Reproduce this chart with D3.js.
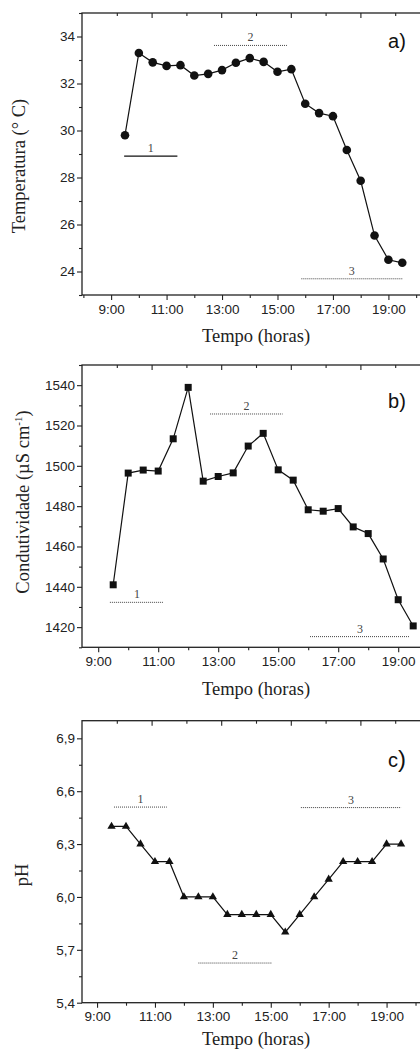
<!DOCTYPE html>
<html>
<head>
<meta charset="utf-8">
<script src="https://cdn.jsdelivr.net/npm/d3@7"></script>
<style>
  body { margin: 0; background: #fff; }
  svg { display: block; }
  .tick text { font-family: "Liberation Sans", Arial, sans-serif; font-size: 13.5px; fill: #222; }
  .tick line { stroke: #222; stroke-width: 1.1px; }
  .title { font-family: "Liberation Serif", "Times New Roman", serif; font-size: 18.5px; fill: #222; }
  .num { font-family: "Liberation Serif", "Times New Roman", serif; font-size: 12px; fill: #444; }
  .tag { font-family: "Liberation Sans", Arial, sans-serif; font-size: 20px; fill: #111; }
</style>
</head>
<body>
<script>
// sampling times (hours) - every half hour
var hours = [9.5, 10, 10.5, 11, 11.5, 12, 12.5, 13, 13.5, 14, 14.5, 15, 15.5, 16, 16.5, 17, 17.5, 18, 18.5, 19, 19.5];

// series
var tempValues = [29.8, 33.3, 32.9, 32.75, 32.78, 32.34, 32.41, 32.57, 32.88, 33.08, 32.92, 32.5, 32.61, 31.14, 30.74, 30.61, 29.17, 27.86, 25.53, 24.5, 24.37];
var condValues = [1441, 1496.4, 1497.9, 1497.4, 1513.4, 1538.9, 1492.4, 1494.7, 1496.5, 1509.8, 1516.1, 1498, 1492.9, 1478.2, 1477.5, 1478.8, 1469.7, 1466.4, 1453.8, 1433.6, 1420.6];
var phValues = [6.4, 6.4, 6.3, 6.2, 6.2, 6.0, 6.0, 6.0, 5.9, 5.9, 5.9, 5.9, 5.8, 5.9, 6.0, 6.1, 6.2, 6.2, 6.2, 6.3, 6.3];

// tick labels
var timeTicks = [9, 11, 13, 15, 17, 19];
var timeLabels = ["9:00", "11:00", "13:00", "15:00", "17:00", "19:00"];
var tempTicks = [24, 26, 28, 30, 32, 34];
var condTicks = [1420, 1440, 1460, 1480, 1500, 1520, 1540];
var phTicks = [5.4, 5.7, 6.0, 6.3, 6.6, 6.9];
var phLabels = ["5,4", "5,7", "6,0", "6,3", "6,6", "6,9"];

// period bars (1, 2, 3) in data units: start hour, end hour, value
var tempPeriods = [{n: "1", h0: 9.47, h1: 11.39, v: 28.91}, {n: "2", h0: 12.71, h1: 15.34, v: 33.62}, {n: "3", h0: 15.86, h1: 19.5, v: 23.69}];
var condPeriods = [{n: "1", h0: 9.39, h1: 11.19, v: 1432.3}, {n: "2", h0: 12.73, h1: 15.15, v: 1525.7}, {n: "3", h0: 16.06, h1: 19.39, v: 1415.3}];
var phPeriods = [{n: "1", h0: 9.585, h1: 11.41, v: 6.51}, {n: "2", h0: 12.5, h1: 15.03, v: 5.625}, {n: "3", h0: 16.04, h1: 19.5, v: 6.507}];

var W = 420, H = 1049;
var left = 82, right = 430;

var svg = d3.select("body").append("svg")
  .attr("width", W)
  .attr("height", H);

// one panel
function drawPanel(p){
  var g = svg.append("g");
  var x = d3.scaleLinear().domain(p.xDomain).range([left, right]);
  var y = d3.scaleLinear().domain(p.yDomain).range([p.bottom, p.top]);
  var topScale = d3.scaleLinear().domain([0, 10]).range([left, right]);

  // minor ticks: every hour on x, half steps on y
  var xMinor = d3.range(Math.ceil(p.xDomain[0]), p.xDomain[1] + 0.001, 1).filter(function(h){ return timeTicks.indexOf(h) < 0; });
  var yMinor = d3.range(p.yDomain[0], p.yDomain[1] + 1e-6, p.minor).filter(function(v){
    return p.yTicks.every(function(t){ return Math.abs(t - v) > 1e-6; });
  });

  g.append("g").attr("transform", "translate(0," + p.bottom + ")")
    .call(d3.axisBottom(x).tickValues(xMinor).tickSize(3).tickFormat(""))
    .call(function(a){ a.select(".domain").remove(); });
  g.append("g").attr("transform", "translate(0," + p.bottom + ")")
    .call(d3.axisBottom(x).tickValues(timeTicks).tickSize(5).tickPadding(4)
      .tickFormat(function(d, i){ return timeLabels[i]; }))
    .call(function(a){ a.select(".domain").remove(); });

  g.append("g").attr("transform", "translate(" + left + ",0)")
    .call(d3.axisLeft(y).tickValues(yMinor).tickSize(3).tickFormat(""))
    .call(function(a){ a.select(".domain").remove(); });
  g.append("g").attr("transform", "translate(" + left + ",0)")
    .call(d3.axisLeft(y).tickValues(p.yTicks).tickSize(5).tickPadding(2)
      .tickFormat(function(d, i){ return p.yLabels ? p.yLabels[i] : d; }))
    .call(function(a){ a.select(".domain").remove(); });

  // top axis, ticks hanging inside
  g.append("g").attr("transform", "translate(0," + p.top + ")")
    .call(d3.axisBottom(topScale).tickValues([1, 3, 5, 7, 9]).tickSize(3).tickFormat(""))
    .call(function(a){ a.select(".domain").remove(); });
  g.append("g").attr("transform", "translate(0," + p.top + ")")
    .call(d3.axisBottom(topScale).tickValues([2, 4, 6, 8]).tickSize(5).tickFormat(""))
    .call(function(a){ a.select(".domain").remove(); });

  // frame
  g.append("rect")
    .attr("x", left).attr("y", p.top)
    .attr("width", right - left).attr("height", p.bottom - p.top)
    .style("fill", "none").style("stroke", "#222").style("stroke-width", 1.3);

  // period bars
  var per = g.selectAll(".period").data(p.periods).enter().append("g");
  per.append("line")
    .attr("x1", function(d){ return x(d.h0); })
    .attr("x2", function(d){ return x(d.h1); })
    .attr("y1", function(d){ return y(d.v); })
    .attr("y2", function(d){ return y(d.v); })
    .style("stroke", function(d){ return p.solidFirst && d.n == "1" ? "#111" : "#444"; })
    .style("stroke-width", function(d){ return p.solidFirst && d.n == "1" ? 1.3 : 1; })
    .style("stroke-dasharray", function(d){ return p.solidFirst && d.n == "1" ? null : "1,1"; });
  per.append("text").attr("class", "num")
    .attr("x", function(d){ return (x(d.h0) + x(d.h1)) / 2; })
    .attr("y", function(d){ return y(d.v) - 4; })
    .attr("text-anchor", "middle")
    .text(function(d){ return d.n; });

  // the series
  var pts = hours.map(function(h, i){ return [h, p.values[i]]; });
  var line = d3.line().x(function(d){ return x(d[0]); }).y(function(d){ return y(d[1]); });
  g.append("path").datum(pts).attr("d", line)
    .style("fill", "none").style("stroke", "#111").style("stroke-width", 1.2);

  g.selectAll(".pt").data(pts).enter().append("path")
    .attr("transform", function(d){ return "translate(" + x(d[0]) + "," + y(d[1]) + ")"; })
    .attr("d", d3.symbol().type(p.symbol).size(p.symbolSize))
    .style("fill", "#111");

  // axis titles
  g.append("text").attr("class", "title")
    .attr("x", 256).attr("y", p.bottom + p.xTitleGap)
    .attr("text-anchor", "middle")
    .text("Tempo (horas)");
  var yt = g.append("text").attr("class", "title")
    .attr("transform", "translate(" + p.yTitleX + "," + p.yTitleY + ") rotate(-90)")
    .attr("text-anchor", "middle");
  p.yTitle(yt);

  // panel letter, the bracket is drawn a bit taller
  var tag = g.append("text").attr("class", "tag")
    .attr("x", left + 306).attr("y", p.top + p.tagDy);
  tag.append("tspan").text(p.tag);
  tag.append("tspan").style("font-size", p.parenSize + "px").text(")");
}

drawPanel({
  top: 13, bottom: 295, xDomain: [7.95, 20.5], yDomain: [23, 35],
  yTicks: tempTicks, minor: 1, values: tempValues, periods: tempPeriods,
  symbol: d3.symbolCircle, symbolSize: 58, solidFirst: true,
  xTitleGap: 47, yTitleX: 25, yTitleY: 166, tag: "a", tagDy: 35, parenSize: 20,
  yTitle: function(t){ t.text("Temperatura (° C)"); }
});

drawPanel({
  top: 365, bottom: 647.3, xDomain: [8.46, 20.06], yDomain: [1410, 1550],
  yTicks: condTicks, minor: 10, values: condValues, periods: condPeriods,
  symbol: d3.symbolSquare, symbolSize: 49,
  xTitleGap: 48, yTitleX: 29, yTitleY: 502, tag: "b", tagDy: 43, parenSize: 20,
  yTitle: function(t){
    t.append("tspan").text("Condutividade (µS cm");
    t.append("tspan").attr("dy", -7).style("font-size", "11px").text("-1");
    t.append("tspan").attr("dy", 7).text(")");
  }
});

drawPanel({
  top: 720.7, bottom: 1002.7, xDomain: [8.48, 20.5], yDomain: [5.4, 7.0],
  yTicks: phTicks, yLabels: phLabels, minor: 0.15, values: phValues, periods: phPeriods,
  symbol: d3.symbolTriangle, symbolSize: 30,
  xTitleGap: 42, yTitleX: 28, yTitleY: 875, tag: "c", tagDy: 46, parenSize: 24,
  yTitle: function(t){ t.text("pH"); }
});
</script>
</body>
</html>
